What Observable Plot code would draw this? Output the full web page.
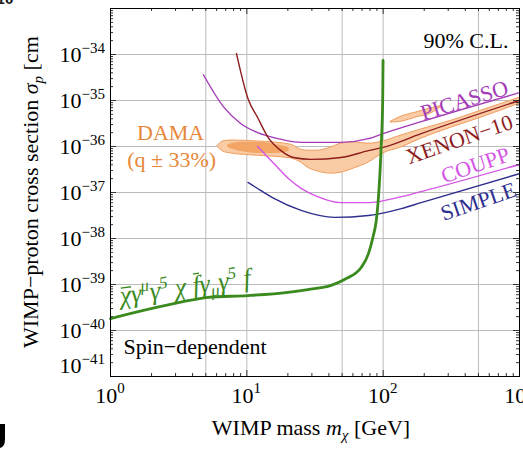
<!DOCTYPE html>
<html><head><meta charset="utf-8">
<script src="https://cdn.jsdelivr.net/npm/d3@7"></script>
<script src="https://cdn.jsdelivr.net/npm/@observablehq/plot@0.6"></script>
<style>
html,body{margin:0;padding:0;background:#fff;}
svg{display:block;}
#chart svg text, #chart svg tspan { font-family: "Liberation Serif", "Times New Roman", serif; }
</style>
</head><body><div id="chart"></div>
<script>
// ---------- tick values ----------
const xTickValues = [1, 10, 100, 1000];
const xTickExps = ["0", "1", "2", "3"];
const yTickExps = [-41, -40, -39, -38, -37, -36, -35, -34];
const xGridValues = [5, 10, 50, 100, 500];
const yGridExps = [-40, -39, -38, -37, -36, -35, -34];

// ---------- curves: WIMP mass [GeV] and log10(sigma_p / cm^2) ----------
const picassoMass = [4.8, 6.8, 9.0, 12, 17, 25, 49, 78, 100, 190, 1000];
const picassoExp  = [-34.44, -35.15, -35.50, -35.70, -35.83, -35.91, -35.91, -35.83, -35.72, -35.46, -34.83];

const xenonMass = [8.4, 10.2, 12, 14.3, 17.8, 22, 29.5, 49, 78, 100, 190, 1000];
const xenonExp  = [-33.98, -34.96, -35.37, -35.80, -36.09, -36.24, -36.28, -36.24, -36.09, -36.02, -35.72, -35.00];

const couppMass = [12, 15.8, 21, 25, 33, 49, 78, 136, 190, 1000];
const couppExp  = [-36.00, -36.37, -36.74, -36.91, -37.09, -37.22, -37.22, -37.09, -36.98, -36.39];

const simpleMass = [10.2, 12.7, 15.8, 25, 44, 78, 136, 190, 1000];
const simpleExp  = [-36.78, -36.96, -37.13, -37.39, -37.54, -37.50, -37.35, -37.22, -36.59];

const axialMass = [1, 4.1, 5.2, 10.2, 20, 28, 41.5, 52, 69, 78, 84, 89, 92, 96.7, 99.2, 99.8];
const axialExp  = [-39.74, -39.33, -39.28, -39.24, -39.17, -39.11, -39.02, -38.89, -38.63, -38.33, -37.98, -37.61, -37.17, -36.00, -35.00, -34.13];

// DAMA region (q ± 33%): outer band, inner core, upper island
const damaMass  = [6.1, 6.7, 7.6, 12, 21, 25, 28, 33, 41.5, 49, 61, 78, 100, 136, 190, 316, 526, 1000];
const damaHiExp = [-35.99, -35.89, -35.87, -35.89, -35.96, -36.07, -36.09, -36.09, -36.02, -35.94, -35.91, -35.94, -35.89, -35.76, -35.63, -35.44, -35.22, -34.94];
const damaLoExp = [-36.01, -36.11, -36.15, -36.20, -36.26, -36.35, -36.46, -36.54, -36.59, -36.57, -36.48, -36.35, -36.15, -36.02, -35.83, -35.59, -35.37, -35.07];

const damaCoreMass  = [7.25, 9.0, 12, 16.3, 20.4];
const damaCoreHiExp = [-35.96, -35.91, -35.91, -35.96, -36.02];
const damaCoreLoExp = [-36.02, -36.11, -36.15, -36.15, -36.11];

const damaIslandMass  = [114, 136, 175, 225, 267];
const damaIslandHiExp = [-35.46, -35.35, -35.26, -35.17, -35.12];
const damaIslandLoExp = [-35.48, -35.46, -35.37, -35.28, -35.14];

// ---------- build tables ----------
const toRows = (ms, es) => ms.map((m, i) => ({m, s: 10 ** es[i]}));
const toBand = (ms, hi, lo) => ms.map((m, i) => ({m, hi: 10 ** hi[i], lo: 10 ** lo[i]}));

const picasso = toRows(picassoMass, picassoExp);
const xenon = toRows(xenonMass, xenonExp);
const coupp = toRows(couppMass, couppExp);
const simple = toRows(simpleMass, simpleExp);
const axial = toRows(axialMass, axialExp);
const dama = toBand(damaMass, damaHiExp, damaLoExp);
const damaCore = toBand(damaCoreMass, damaCoreHiExp, damaCoreLoExp);
const damaIsland = toBand(damaIslandMass, damaIslandHiExp, damaIslandLoExp);

const yTickValues = yTickExps.map(e => 10 ** e);
const yGridValues = yGridExps.map(e => 10 ** e);
const minorX = [];
for (const k of [1, 10, 100]) for (let i = 2; i <= 9; i++) minorX.push(i * k);
const minorY = [];
for (const e of yTickExps) for (let i = 2; i <= 9; i++) minorY.push(i * 10 ** e);

const serif = "Liberation Serif, Times New Roman, serif";
const FW = 409, FH = 368; // frame size (for tick insets)

const chart = Plot.plot({
  width: 523, height: 449,
  marginLeft: 110, marginRight: 4, marginTop: 8, marginBottom: 73,
  x: {type: "log", domain: [1, 1000], axis: null},
  y: {type: "log", domain: [1e-41, 1e-33], axis: null},
  style: {fontFamily: serif, background: "white", overflow: "hidden"},
  marks: [
    Plot.ruleX(xGridValues, {stroke: "#bcbcbc", strokeWidth: 1}),
    Plot.ruleY(yGridValues, {stroke: "#bcbcbc", strokeWidth: 1}),
    Plot.areaY(dama, {x: "m", y1: "lo", y2: "hi", fill: "#F9CCA6", stroke: "#EE9D5E", strokeWidth: 1, curve: "monotone-x"}),
    Plot.areaY(damaIsland, {x: "m", y1: "lo", y2: "hi", fill: "#F9CCA6", stroke: "#EE9D5E", strokeWidth: 1, curve: "monotone-x"}),
    Plot.areaY(damaCore, {x: "m", y1: "lo", y2: "hi", fill: "#F2A565", stroke: "none", curve: "monotone-x"}),
    Plot.line(picasso, {x: "m", y: "s", stroke: "#A43BB8", strokeWidth: 1.4, curve: "monotone-x"}),
    Plot.line(coupp, {x: "m", y: "s", stroke: "#D455E6", strokeWidth: 1.4, curve: "monotone-x"}),
    Plot.line(simple, {x: "m", y: "s", stroke: "#2E2E8E", strokeWidth: 1.4, curve: "monotone-x"}),
    Plot.line(xenon, {x: "m", y: "s", stroke: "#8E1C1C", strokeWidth: 1.4, curve: "monotone-x"}),
    Plot.line(axial, {x: "m", y: "s", stroke: "#3A8A1E", strokeWidth: 2.8, curve: "monotone-x"}),
    // annotations
    Plot.text(["90% C.L."], {frameAnchor: "top-right", dx: -11, dy: 24, textAnchor: "end", fontSize: 22, fill: "black"}),
    Plot.text(["Spin\u2212dependent"], {frameAnchor: "bottom-left", dx: 13, dy: -23, textAnchor: "start", fontSize: 22, fill: "black"}),
    Plot.text(["DAMA"], {x: () => 2.76, y: () => 10 ** -35.70, fontSize: 22, fill: "#E8873A"}),
    Plot.text(["(q \u00B1 33%)"], {x: () => 2.81, y: () => 10 ** -36.30, fontSize: 22, fill: "#E8873A"}),
    Plot.text(["PICASSO"], {x: () => 394, y: () => 10 ** -35.0, rotate: -17, fontSize: 22, fill: "#A43BB8"}),
    Plot.text(["XENON\u221210"], {x: () => 362, y: () => 10 ** -35.85, rotate: -19, fontSize: 22, fill: "#8E1C1C"}),
    Plot.text(["COUPP"], {x: () => 475, y: () => 10 ** -36.41, rotate: -19, fontSize: 22, fill: "#D455E6"}),
    Plot.text(["SIMPLE"], {x: () => 500, y: () => 10 ** -37.20, rotate: -19, fontSize: 22, fill: "#2E2E8E"}),
    // inward ticks on all four sides
    Plot.tickX(xTickValues, {x: d => d, insetTop: FH - 6, stroke: "#333"}),
    Plot.tickX(minorX, {x: d => d, insetTop: FH - 3, stroke: "#333"}),
    Plot.tickX(xTickValues, {x: d => d, insetBottom: FH - 6, stroke: "#333"}),
    Plot.tickX(minorX, {x: d => d, insetBottom: FH - 3, stroke: "#333"}),
    Plot.tickY(yTickValues, {y: d => d, insetRight: FW - 6, stroke: "#333"}),
    Plot.tickY(minorY, {y: d => d, insetRight: FW - 3, stroke: "#333"}),
    Plot.tickY(yTickValues, {y: d => d, insetLeft: FW - 6, stroke: "#333"}),
    Plot.tickY(minorY, {y: d => d, insetLeft: FW - 3, stroke: "#333"}),
    Plot.frame({stroke: "black", strokeWidth: 1})
  ]
});
document.getElementById("chart").appendChild(chart);

// ---------- rich text (super/subscripts) placed through Plot's scales ----------
const xs = chart.scale("x"), ys = chart.scale("y");
const g = d3.select(chart).append("g").attr("fill", "black");

yTickExps.forEach(e => {
  const y = ys.apply(10 ** e);
  const t = g.append("text").attr("x", 105).attr("y", y + (e === -41 ? -3 : 8))
    .attr("text-anchor", "end").attr("font-size", 22);
  t.append("tspan").text("10");
  t.append("tspan").attr("dy", -9).attr("font-size", 15).text("\u2212" + Math.abs(e));
});

xTickValues.forEach((v, i) => {
  const x = xs.apply(v);
  const t = g.append("text").attr("x", x).attr("y", 403).attr("text-anchor", "middle").attr("font-size", 22);
  t.append("tspan").text("10");
  t.append("tspan").attr("dy", -10).attr("font-size", 15).text(xTickExps[i]);
});

{
  const t = g.append("text").attr("x", 311).attr("y", 435).attr("text-anchor", "middle").attr("font-size", 22);
  t.append("tspan").text("WIMP mass ");
  t.append("tspan").attr("font-style", "italic").text("m");
  t.append("tspan").attr("font-style", "italic").attr("font-size", 15).attr("dy", 5).text("\u03C7");
  t.append("tspan").attr("dy", -5).text(" [GeV]");
}
{
  const t = g.append("text").attr("transform", "translate(38,348) rotate(-90)").attr("text-anchor", "start").attr("font-size", 22);
  t.append("tspan").text("WIMP\u2212proton cross section ");
  t.append("tspan").attr("font-style", "italic").text("\u03C3");
  t.append("tspan").attr("font-style", "italic").attr("font-size", 15).attr("dy", 5).text("p");
  t.append("tspan").attr("dy", -5).text(" [cm");
}
{
  // operator label along the green curve
  const cx = xs.apply(3.56), cy = ys.apply(10 ** -39.07);
  const fg = g.append("g").attr("transform", `translate(${cx},${cy}) rotate(-8)`).attr("fill", "#3A8A1E");
  const t = fg.append("text").attr("text-anchor", "middle").attr("y", 8).attr("font-size", 26)
    .attr("font-style", "italic");
  t.append("tspan").text("\u03C7\u03B3");                                   // 0,1
  t.append("tspan").attr("dy", -10).attr("font-size", 17).text("\u03BC");    // 2
  t.append("tspan").attr("dy", 10).text("\u03B3");                          // 3
  t.append("tspan").attr("dy", -10).attr("font-size", 17).text("5");         // 4
  t.append("tspan").attr("dy", 10).text(" \u03C7 f\u03B3");                 // 5..9  (f at 8)
  t.append("tspan").attr("dy", 5).attr("font-size", 17).text("\u03BC");      // 10
  t.append("tspan").attr("dy", -5).text("\u03B3");                          // 11
  t.append("tspan").attr("dy", -10).attr("font-size", 17).text("5");         // 12
  t.append("tspan").attr("dy", 10).text(" f");                              // 13,14
  const node = t.node();
  const bars = [[0, 16], [8, 20]];
  for (const [i, rise] of bars) {
    const b = node.getExtentOfChar(i);
    fg.append("line").attr("x1", b.x + 2).attr("x2", b.x + b.width + 1)
      .attr("y1", 8 - rise).attr("y2", 8 - rise)
      .attr("stroke", "#3A8A1E").attr("stroke-width", 1.3);
  }
}
// cropped fragments at the image edges
g.append("text").attr("x", 5).attr("y", 4).attr("font-size", 12).attr("font-weight", "bold")
  .style("font-family", "DejaVu Sans, sans-serif").attr("fill", "#222").text("10");
g.append("path").attr("d", "M0,424 H5 V439 Q5,447 0,448 Z").attr("fill", "black");
</script>
</body></html>
